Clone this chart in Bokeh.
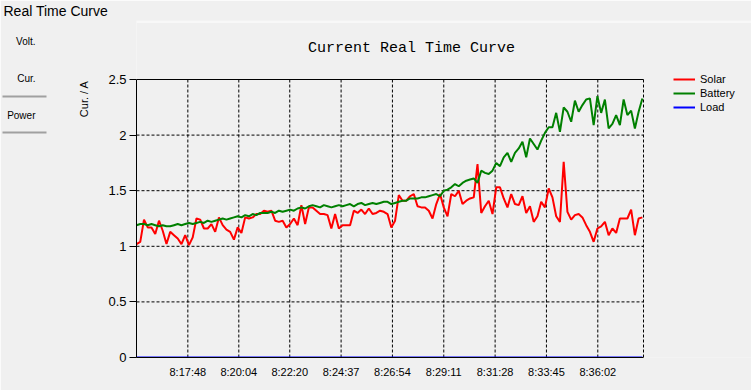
from bokeh.plotting import figure
from bokeh.models import (Range1d, FixedTicker, Legend, LegendItem, ColumnDataSource, Title,
                          Label, LinearAxis, BoxAnnotation)
from bokeh.embed import file_html
from bokeh.resources import INLINE

# ---------------- data ----------------
t_start = 8 * 3600 + 15 * 60 + 31      # 8:15:31
t_end = 8 * 3600 + 38 * 60 + 4         # 8:38:04
sample_step = 10                        # seconds between samples

solar = [1.02, 1.04, 1.24, 1.17, 1.17, 1.11, 1.23, 1.14, 1.02, 1.13,
         1.10, 1.07, 1.02, 1.10, 1.01, 1.08, 1.25, 1.24, 1.16, 1.16,
         1.20, 1.13, 1.26, 1.19, 1.15, 1.13, 1.06, 1.17, 1.12, 1.26,
         1.25, 1.26, 1.29, 1.29, 1.32, 1.31, 1.32, 1.23, 1.22, 1.23,
         1.17, 1.20, 1.25, 1.19, 1.37, 1.20, 1.35, 1.35, 1.32, 1.29,
         1.29, 1.28, 1.16, 1.29, 1.16, 1.19, 1.19, 1.19, 1.32, 1.30,
         1.33, 1.29, 1.34, 1.29, 1.30, 1.32, 1.31, 1.29, 1.17, 1.23,
         1.46, 1.41, 1.41, 1.45, 1.47, 1.36, 1.35, 1.35, 1.32, 1.25,
         1.38, 1.47, 1.35, 1.27, 1.47, 1.45, 1.50, 1.38, 1.41, 1.43,
         1.44, 1.74, 1.30, 1.36, 1.41, 1.29, 1.53, 1.53, 1.43, 1.35,
         1.47, 1.38, 1.37, 1.45, 1.30, 1.36, 1.22, 1.27, 1.40, 1.35,
         1.52, 1.44, 1.27, 1.22, 1.76, 1.31, 1.24, 1.28, 1.29, 1.26,
         1.19, 1.13, 1.04, 1.16, 1.18, 1.22, 1.10, 1.16, 1.12, 1.25,
         1.25, 1.25, 1.33, 1.10, 1.25, 1.26]

battery = [1.19, 1.20, 1.20, 1.19, 1.20, 1.19, 1.18, 1.19, 1.18, 1.18,
           1.19, 1.20, 1.19, 1.20, 1.21, 1.20, 1.21, 1.22, 1.21, 1.23,
           1.22, 1.23, 1.24, 1.25, 1.24, 1.25, 1.26, 1.27, 1.26, 1.28,
           1.27, 1.29, 1.28, 1.30, 1.30, 1.30, 1.31, 1.30, 1.32, 1.31,
           1.32, 1.33, 1.32, 1.34, 1.35, 1.34, 1.36, 1.37, 1.36, 1.35,
           1.37, 1.36, 1.35, 1.36, 1.37, 1.36, 1.37, 1.38, 1.36, 1.38,
           1.39, 1.37, 1.38, 1.39, 1.38, 1.39, 1.40, 1.40, 1.38, 1.39,
           1.40, 1.41, 1.41, 1.43, 1.43, 1.43, 1.44, 1.44, 1.45, 1.46,
           1.47, 1.45, 1.50, 1.51, 1.53, 1.56, 1.54, 1.57, 1.59, 1.60,
           1.61, 1.57, 1.68, 1.66, 1.65, 1.68, 1.75, 1.72, 1.80, 1.84,
           1.76, 1.84, 1.88, 1.94, 1.80, 1.97, 1.92, 1.87, 1.95, 2.02,
           2.07, 2.07, 2.20, 2.03, 2.25, 2.21, 2.12, 2.31, 2.21, 2.27,
           2.32, 2.33, 2.09, 2.35, 2.20, 2.32, 2.06, 2.10, 2.18, 2.09,
           2.32, 2.18, 2.22, 2.06, 2.21, 2.33]

load = [0.0] * len(solar)

times = [t_start + sample_step * i for i in range(len(solar))]

series_names = ["Solar", "Battery", "Load"]
series_colors = ["#ff0000", "#008000", "#0000ff"]

x_tick_labels = ["8:17:48", "8:20:04", "8:22:20", "8:24:37", "8:26:54",
                 "8:29:11", "8:31:28", "8:33:45", "8:36:02"]
y_min, y_max = 0, 2.5
y_ticks = [0, 0.5, 1, 1.5, 2, 2.5]
y_tick_labels = ["0", "0.5", "1", "1.5", "2", "2.5"]
tab_names = ["Volt.", "Cur.", "Power"]


def to_sec(s):
    h, m, sec = s.split(":")
    return int(h) * 3600 + int(m) * 60 + int(sec)


x_ticks = [to_sec(s) for s in x_tick_labels]

# ---------------- layout (pixel geometry) ----------------
W, H = 751, 390
PL, PR, PT, PB = 136, 643, 79, 357      # plotting area of the chart
FT = 20                                  # frame extends up to here (legend/title room)
BG = "#f0f0f0"
SANS = "Liberation Sans"

x_end_frame = t_start + (t_end - t_start) * (W - PL) / (PR - PL)
y_end_frame = y_min + (y_max - y_min) * (PB - FT) / (PB - PT)

p = figure(width=W, height=H, output_backend="svg", toolbar_location=None, title=None,
           x_range=Range1d(t_start, x_end_frame), y_range=Range1d(y_min, y_end_frame),
           min_border_left=PL, min_border_right=0,
           min_border_top=FT, min_border_bottom=H - PB,
           background_fill_color=BG, border_fill_color=BG)
p.outline_line_color = None
p.extra_x_ranges = {"canvas": Range1d(PL, W)}
p.extra_y_ranges = {"canvas": Range1d(PB, FT)}
p.xgrid.visible = False
p.ygrid.visible = False

# axes
p.yaxis.bounds = (y_min, y_max)
p.yaxis.ticker = FixedTicker(ticks=y_ticks)
p.yaxis.major_label_overrides = {v: l for v, l in zip(y_ticks, y_tick_labels)}
p.yaxis.major_tick_out = 7
p.yaxis.major_tick_in = 0
p.yaxis.minor_tick_line_color = None
p.yaxis.axis_line_color = "black"
p.yaxis.major_tick_line_color = "black"
p.yaxis.major_label_text_font = SANS
p.yaxis.major_label_text_font_size = "13px"
p.yaxis.major_label_text_color = "black"
p.yaxis.major_label_standoff = 3

p.xaxis.bounds = (t_start, t_end)
p.xaxis.ticker = FixedTicker(ticks=x_ticks)
p.xaxis.major_label_overrides = {v: l for v, l in zip(x_ticks, x_tick_labels)}
p.xaxis.major_tick_out = 0
p.xaxis.major_tick_in = 0
p.xaxis.minor_tick_line_color = None
p.xaxis.axis_line_color = "black"
p.xaxis.major_label_text_font = SANS
p.xaxis.major_label_text_font_size = "11px"
p.xaxis.major_label_text_color = "black"
p.xaxis.major_label_standoff = 8

# dashed grid limited to the data area, solid top edge
vgrid = x_ticks + [t_end]
p.segment(x0=vgrid, y0=[y_min] * len(vgrid), x1=vgrid, y1=[y_max] * len(vgrid),
          line_color="black", line_dash="3 2", line_width=1)
hgrid = [v for v in y_ticks if y_min < v < y_max]
p.segment(x0=[t_start] * len(hgrid), y0=hgrid, x1=[t_end] * len(hgrid), y1=hgrid,
          line_color="black", line_dash="3 2", line_width=1)
p.segment(x0=[t_start], y0=[y_max], x1=[t_end], y1=[y_max], line_color="black", line_width=1)

# series
src = ColumnDataSource(dict(t=times, solar=solar, battery=battery, load=load))
renderers = []
for col, color in zip(["solar", "battery", "load"], series_colors):
    renderers.append(p.line("t", col, source=src, line_color=color, line_width=2))

legend = Legend(items=[LegendItem(label=n, renderers=[r]) for n, r in zip(series_names, renderers)],
                location=(673 - PL, PB - 114), orientation="vertical",
                glyph_width=22, glyph_height=14, label_height=14,
                spacing=0, padding=0, margin=0, label_standoff=5,
                background_fill_alpha=0, border_line_alpha=0,
                label_text_font=SANS, label_text_font_size="11px",
                label_text_color="black")
p.add_layout(legend)

# ---------------- window chrome ----------------
p.add_layout(BoxAnnotation(left=PL, right=W, top=21, bottom=22,
                           x_range_name="canvas", y_range_name="canvas",
                           fill_color="#ffffff", fill_alpha=1, line_alpha=0))

p.add_layout(Label(x=411, y=48, x_range_name="canvas", y_range_name="canvas",
                   text="Current Real Time Curve", text_font="Liberation Mono",
                   text_font_size="15px", text_color="black",
                   text_align="center", text_baseline="middle"))

p.add_layout(Title(text="Real Time Curve", text_font=SANS, text_font_size="14px",
                   text_font_style="normal", text_color="black",
                   align="left", offset=3 - PL, vertical_align="middle", standoff=2), "above")

p.add_layout(Title(text="Cur. / A", text_font=SANS, text_font_size="11px",
                   text_font_style="normal", text_color="black",
                   align="right", offset=60, vertical_align="middle", standoff=30), "left")

tab_y = [41, 78, 115]
tab_axis = LinearAxis(y_range_name="canvas", ticker=FixedTicker(ticks=tab_y),
                      major_label_overrides={v: n for v, n in zip(tab_y, tab_names)},
                      axis_line_color=None, major_tick_line_color=None,
                      minor_tick_line_color=None, major_tick_out=0, major_tick_in=0,
                      major_label_standoff=26, major_label_text_font=SANS,
                      major_label_text_font_size="10px", major_label_text_color="black")
p.add_layout(tab_axis, "left")

rule_y = [96, 132]
rule_axis = LinearAxis(y_range_name="canvas", ticker=FixedTicker(ticks=rule_y),
                       major_label_overrides={v: "" for v in rule_y},
                       axis_line_color=None, major_tick_line_color="#a0a0a0",
                       major_tick_line_width=2, minor_tick_line_color=None,
                       major_tick_out=2, major_tick_in=42, major_label_standoff=0,
                       major_label_text_font_size="0px")
p.add_layout(rule_axis, "left")

open("out.html", "w").write(file_html(p, INLINE))
